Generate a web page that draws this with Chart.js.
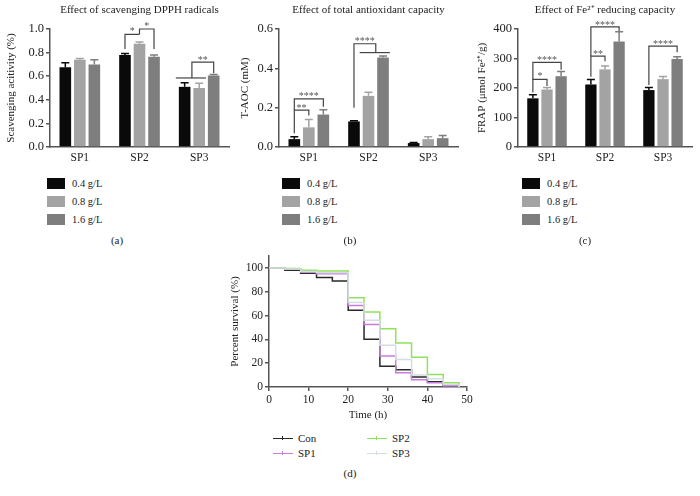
<!DOCTYPE html>
<html>
<head>
<meta charset="utf-8">
<script src="https://cdn.jsdelivr.net/npm/chart.js@4.4.1/dist/chart.umd.min.js"></script>
<style>
body { margin: 0; background: #fff; font-family: 'Liberation Serif', serif; color: #222; }
#page { position: relative; width: 700px; height: 496px; overflow: hidden; }
.box { position: absolute; }
.leg { position: absolute; font-size: 10.5px; }
.leg .row { height: 18px; line-height: 11px; display: flex; align-items: flex-start; }
.leg .sw { display: inline-block; width: 18px; height: 11px; margin-right: 7px; }
.lab { position: absolute; font-size: 11px; transform: translate(-50%, -50%); }
.sleg { position: absolute; font-size: 11px; }
.sleg .row { position: absolute; white-space: nowrap; line-height: 12px; }
.sleg .ln { position: absolute; width: 20px; height: 0; top: 6px; }
.sleg .tk { position: absolute; left: 9px; top: -3px; width: 0; height: 4px; }
</style>
</head>
<body>
<div id="page">
  <div class="box" style="left:0;top:0;width:232px;height:165px"><canvas id="dpph"></canvas></div>
  <div class="box" style="left:230px;top:0;width:231px;height:165px"><canvas id="taoc"></canvas></div>
  <div class="box" style="left:462px;top:0;width:233px;height:165px"><canvas id="frap"></canvas></div>
  <div class="box" style="left:220px;top:245px;width:255px;height:177px"><canvas id="surv"></canvas></div>
  <div class="leg" id="legA" style="left:47px;top:178px"></div>
  <div class="leg" id="legB" style="left:282px;top:178px"></div>
  <div class="leg" id="legC" style="left:522px;top:178px"></div>
  <div class="lab" style="left:117px;top:240px">(a)</div>
  <div class="lab" style="left:350px;top:240px">(b)</div>
  <div class="lab" style="left:585px;top:240px">(c)</div>
  <div class="sleg" id="legD" style="left:273px;top:432px"></div>
  <div class="lab" style="left:350px;top:473px">(d)</div>
</div>
<script>
// categories and doses
const samples = ['SP1', 'SP2', 'SP3'];
const doses = ['0.4 g/L', '0.8 g/L', '1.6 g/L'];
const doseColors = ['#0a0a0a', '#a3a3a3', '#7e7e7e'];

// (a) DPPH scavenging
const dpph04 = [0.675, 0.78, 0.51];
const dpph08 = [0.74, 0.875, 0.50];
const dpph16 = [0.70, 0.765, 0.605];
const dpph04Err = [0.04, 0.012, 0.035];
const dpph08Err = [0.01, 0.015, 0.04];
const dpph16Err = [0.04, 0.015, 0.01];

// (b) T-AOC
const taoc04 = [0.04, 0.13, 0.02];
const taoc08 = [0.10, 0.26, 0.04];
const taoc16 = [0.165, 0.455, 0.045];
const taoc04Err = [0.012, 0.004, 0.003];
const taoc08Err = [0.04, 0.018, 0.012];
const taoc16Err = [0.025, 0.008, 0.013];

// (c) FRAP
const frap04 = [165, 212, 193];
const frap08 = [195, 263, 230];
const frap16 = [240, 358, 298];
const frap04Err = [12, 17, 9];
const frap08Err = [7, 12, 9];
const frap16Err = [16, 33, 8];

// significance brackets: a/b = bar index (fractional = between bars)
const dpphMarks = [
  {cat: 1, a: 0, b: 1, top: 0.955, aLow: 0.83, bLow: 0.955, text: '*'},
  {cat: 1, a: 1, b: 2, top: 1.0, aLow: 0.955, bLow: 0.83, text: '*'},
  {cat: 2, a: 0.5, b: 2, top: 0.72, aLow: 0.585, bLow: 0.625, text: '**'}
];
const dpphGroups = [{cat: 2, a: 0, b: 1, at: 0.585}];
const taocMarks = [
  {cat: 0, a: 0, b: 2, top: 0.245, aLow: 0.187, bLow: 0.205, text: '****'},
  {cat: 0, a: 0, b: 1, top: 0.187, aLow: 0.07, bLow: 0.16, text: '**'},
  {cat: 1, a: 0, b: 1.5, top: 0.525, aLow: 0.2, bLow: 0.48, text: '****'}
];
const taocGroups = [{cat: 1, a: 1, b: 2, at: 0.48}];
const frapMarks = [
  {cat: 0, a: 0, b: 2, top: 287, aLow: 229, bLow: 262, text: '****'},
  {cat: 0, a: 0, b: 1, top: 229, aLow: 185, bLow: 207, text: '*'},
  {cat: 1, a: 0, b: 2, top: 407, aLow: 308, bLow: 393, text: '****'},
  {cat: 1, a: 0, b: 1, top: 308, aLow: 238, bLow: 291, text: '**'},
  {cat: 2, a: 0, b: 2, top: 342, aLow: 210, bLow: 321, text: '****'}
];

// (d) survival
const hours = [0, 4, 8, 12, 16, 20, 24, 28, 32, 36, 40, 44, 48];
const survCon = [100, 98, 95.5, 92, 89, 64.5, 40, 17.5, 14.5, 8.5, 4.5, 1.5, 0];
const survSP1 = [100, 99, 96.5, 95, 95, 68.5, 52.5, 26, 12, 6, 3.5, 1, 0];
const survSP2 = [100, 99.5, 98, 97.5, 97.5, 75, 63, 49, 37, 25, 10.5, 3.5, 0];
const survSP3 = [100, 99, 97, 96, 96, 71, 56, 35, 23, 10, 7, 2, 0];
const survNames = ['Con', 'SP1', 'SP2', 'SP3'];
const survColors = ['#2a2a2a', '#c77ddb', '#8fe25e', '#d3dde2'];

Chart.defaults.font.family = "'Liberation Serif', serif";
Chart.defaults.font.size = 11;
Chart.defaults.color = '#222';
Chart.defaults.animation = false;

const axisColor = '#555';

function extras(errors, marks, groups) {
  return {
    id: 'extras',
    afterDatasetsDraw(chart) {
      const ctx = chart.ctx;
      const ys = chart.scales.y;
      const bar = (cat, i) => chart.getDatasetMeta(i).data[cat];
      const xAt = (cat, f) => {
        const i = Math.floor(f), fr = f - i;
        const x0 = bar(cat, i).x;
        return fr ? x0 + (bar(cat, i + 1).x - x0) * fr : x0;
      };
      ctx.save();
      ctx.lineWidth = 1.5;
      chart.data.datasets.forEach((ds, i) => {
        chart.getDatasetMeta(i).data.forEach((b, j) => {
          const top = ys.getPixelForValue(ds.data[j] + errors[i][j]);
          ctx.strokeStyle = ds.backgroundColor;
          ctx.beginPath();
          ctx.moveTo(b.x, b.y);
          ctx.lineTo(b.x, top);
          ctx.moveTo(b.x - 4, top);
          ctx.lineTo(b.x + 4, top);
          ctx.stroke();
        });
      });
      ctx.strokeStyle = '#444';
      ctx.fillStyle = '#555';
      ctx.lineWidth = 1.2;
      ctx.font = "10px 'Liberation Serif', serif";
      ctx.textAlign = 'center';
      ctx.textBaseline = 'bottom';
      groups.forEach(g => {
        const y = ys.getPixelForValue(g.at);
        const l = bar(g.cat, g.a), r = bar(g.cat, g.b);
        ctx.beginPath();
        ctx.moveTo(l.x - l.width / 2 - 3, y);
        ctx.lineTo(r.x + r.width / 2 + 1, y);
        ctx.stroke();
      });
      marks.forEach(m => {
        const xa = xAt(m.cat, m.a), xb = xAt(m.cat, m.b);
        const yt = ys.getPixelForValue(m.top);
        ctx.beginPath();
        ctx.moveTo(xa, ys.getPixelForValue(m.aLow));
        ctx.lineTo(xa, yt);
        ctx.lineTo(xb, yt);
        ctx.lineTo(xb, ys.getPixelForValue(m.bLow));
        ctx.stroke();
        ctx.fillText(m.text, (xa + xb) / 2, yt + (m.text === '*' ? 2 : 3));
      });
      ctx.restore();
    }
  };
}

function barChart(id, title, yTitle, series, errors, marks, groups, yMax, yStep, digits, yWidth, titleGap) {
  return new Chart(document.getElementById(id), {
    type: 'bar',
    data: {
      labels: samples,
      datasets: series.map((s, i) => ({
        label: doses[i],
        data: s,
        backgroundColor: doseColors[i],
        categoryPercentage: 0.73,
        barPercentage: 0.8
      }))
    },
    options: {
      responsive: true,
      maintainAspectRatio: false,
      layout: {padding: {right: 3}},
      plugins: {
        legend: {display: false},
        tooltip: {enabled: false},
        title: {
          display: true, text: title, fullSize: false,
          font: {size: 11, weight: 'normal'}, color: '#222',
          padding: {top: 4, bottom: 11.8}
        }
      },
      scales: {
        x: {
          grid: {drawOnChartArea: false, drawTicks: false},
          border: {color: axisColor, width: 1.5},
          ticks: {padding: 4, color: '#222', font: {size: 11.5}},
          afterFit: s => { s.height = 18; }
        },
        y: {
          min: 0, max: yMax,
          grid: {drawOnChartArea: false, drawTicks: true, tickLength: 4, color: axisColor, lineWidth: 1.5},
          border: {color: axisColor, width: 1.5},
          ticks: {stepSize: yStep, padding: 2, font: {size: 12.5}, callback: v => v.toFixed(digits)},
          title: {display: true, text: yTitle, padding: {top: titleGap, bottom: 2}},
          afterFit: s => { s.width = yWidth; }
        }
      }
    },
    plugins: [extras(errors, marks, groups)]
  });
}

barChart('dpph', 'Effect of scavenging DPPH radicals', 'Scavenging acitivity (%)',
  [dpph04, dpph08, dpph16], [dpph04Err, dpph08Err, dpph16Err], dpphMarks, dpphGroups, 1.0, 0.2, 1, 50, 5);
barChart('taoc', 'Effect of total antioxidant capacity', 'T-AOC (mM)',
  [taoc04, taoc08, taoc16], [taoc04Err, taoc08Err, taoc16Err], taocMarks, taocGroups, 0.6, 0.2, 1, 49, 9);
barChart('frap', 'Effect of Fe²⁺ reducing capacity', 'FRAP (μmol Fe²⁺/g)',
  [frap04, frap08, frap16], [frap04Err, frap08Err, frap16Err], frapMarks, [], 400, 100, 0, 56, 14);

// survival curves
const survSeries = [survCon, survSP1, survSP2, survSP3];
const drawOrder = [3, 2, 1, 0];
new Chart(document.getElementById('surv'), {
  type: 'line',
  data: {
    datasets: drawOrder.map(i => ({
      label: survNames[i],
      data: hours.map((h, k) => ({x: h, y: survSeries[i][k]})),
      borderColor: survColors[i],
      borderWidth: 1.5,
      stepped: 'before',
      pointRadius: 0,
      fill: false
    }))
  },
  options: {
    responsive: true,
    maintainAspectRatio: false,
    layout: {padding: {top: 11, right: 8}},
    plugins: {legend: {display: false}, tooltip: {enabled: false}},
    scales: {
      x: {
        type: 'linear', min: 0, max: 50,
        grid: {drawOnChartArea: false, drawTicks: true, tickLength: 4, color: axisColor, lineWidth: 1.5},
        border: {color: axisColor, width: 1.5},
        ticks: {stepSize: 10, padding: 2, font: {size: 11.5}},
        title: {display: true, text: 'Time (h)', padding: {top: 3, bottom: 0}},
        afterFit: s => { s.height = 35; }
      },
      y: {
        min: 0, max: 110,
        grid: {drawOnChartArea: false, drawTicks: true, tickLength: 4, color: axisColor, lineWidth: 1.5},
        border: {color: axisColor, width: 1.5},
        ticks: {stepSize: 20, padding: 2, includeBounds: false, font: {size: 11.5}},
        title: {display: true, text: 'Percent survival (%)', padding: {top: 9, bottom: 2}},
        afterFit: s => { s.width = 49; }
      }
    }
  }
});

// legends
['legA', 'legB', 'legC'].forEach(id => {
  const el = document.getElementById(id);
  doses.forEach((d, i) => {
    const row = document.createElement('div');
    row.className = 'row';
    const sw = document.createElement('span');
    sw.className = 'sw';
    sw.style.background = doseColors[i];
    row.appendChild(sw);
    row.appendChild(document.createTextNode(d));
    el.appendChild(row);
  });
});
const legD = document.getElementById('legD');
survNames.forEach((n, i) => {
  const row = document.createElement('div');
  row.className = 'row';
  row.style.left = (i < 2 ? 0 : 94) + 'px';
  row.style.top = (i % 2) * 15 + 'px';
  const ln = document.createElement('span');
  ln.className = 'ln';
  ln.style.borderTop = '1.5px solid ' + survColors[i];
  const tk = document.createElement('span');
  tk.className = 'tk';
  tk.style.borderLeft = '1px solid ' + survColors[i];
  ln.appendChild(tk);
  row.appendChild(ln);
  const tx = document.createElement('span');
  tx.style.marginLeft = '25px';
  tx.textContent = n;
  row.appendChild(tx);
  legD.appendChild(row);
});
</script>
</body>
</html>
